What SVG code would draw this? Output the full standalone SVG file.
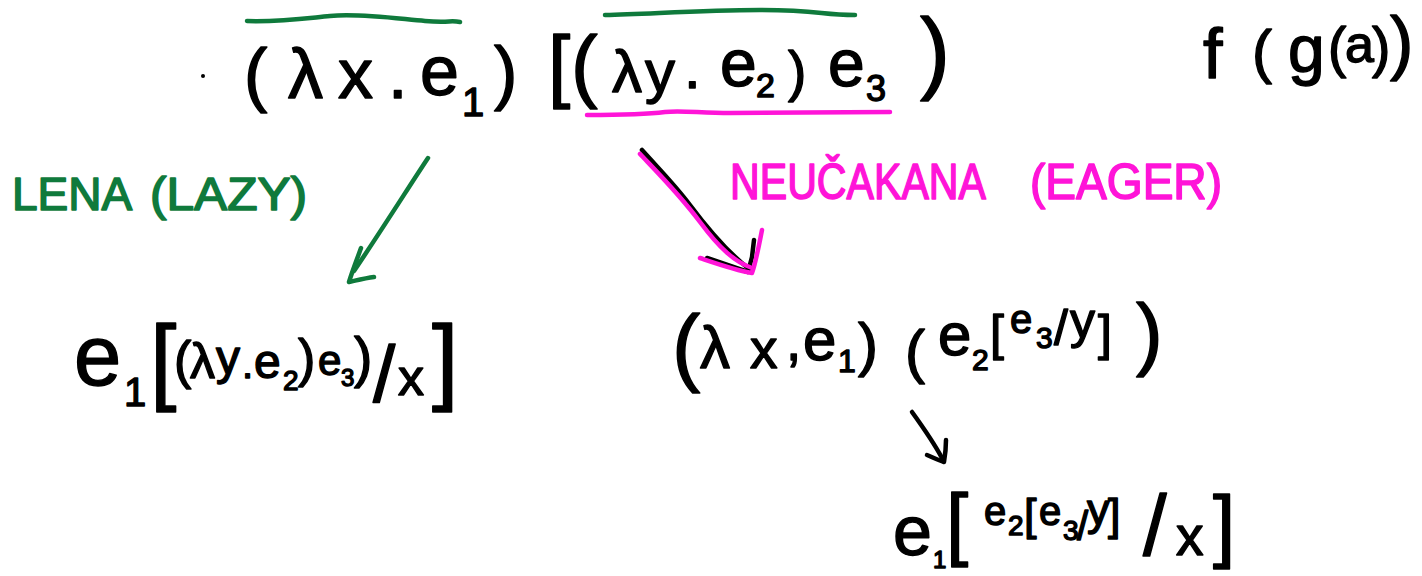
<svg xmlns="http://www.w3.org/2000/svg" width="1422" height="576" viewBox="0 0 1422 576">
<style>
.k{font-family:"Liberation Sans","DejaVu Sans",sans-serif;fill:#000;stroke:#000;stroke-width:1.4;stroke-linejoin:round}
.g{font-family:"Liberation Sans","DejaVu Sans",sans-serif;fill:#0f7a3c;stroke:#0f7a3c;stroke-width:1.6;stroke-linejoin:round}
.m{font-family:"Liberation Sans","DejaVu Sans",sans-serif;fill:#ff14d8;stroke:#ff14d8;stroke-width:1.6;stroke-linejoin:round}
.ln{fill:none;stroke-linecap:round;stroke-linejoin:round;stroke-width:4.5}
.lg{stroke:#0f7a3c}.lm{stroke:#ff14d8}.lk{stroke:#000}
</style>
<rect width="1422" height="576" fill="#fff"/>
<g id="top-expression">
<circle cx="203" cy="76" r="2" fill="#000"/>
<text class="k" font-size="70"><tspan x="244" y="98">(</tspan><tspan x="288" y="98">λ</tspan><tspan x="338" y="98">x</tspan><tspan x="388" y="98">.</tspan><tspan x="420" y="95">e</tspan><tspan x="462" y="116" font-size="40">1</tspan><tspan x="494" y="96" font-size="70">)</tspan><tspan x="548" y="92" font-size="80">[</tspan><tspan x="571" y="92" font-size="80">(</tspan><tspan x="612" y="92" font-size="60">λ</tspan><tspan x="645" y="92" font-size="60">y</tspan><tspan x="684" y="88" font-size="60">.</tspan><tspan x="720" y="86" font-size="66">e</tspan><tspan x="756" y="97" font-size="34">2</tspan><tspan x="788" y="90" font-size="55">)</tspan><tspan x="828" y="86" font-size="66">e</tspan><tspan x="866" y="101" font-size="36">3</tspan><tspan x="920" y="82" font-size="90">)</tspan></text>
<path class="ln lg" d="M247 21 C280 22 300 19 330 16 S 400 19 425 21 S 450 20 460 22"/>
<path class="ln lg" d="M605 15 C650 14 700 10 760 10 S 820 15 855 15"/>
<path class="ln lm" d="M587 115 C620 115 650 114 665 112 S 700 113 730 113 L 890 112"/>
</g>
<g id="f-g-a">
<text class="k" font-size="70"><tspan x="1203" y="78">f</tspan><tspan x="1252" y="72" font-size="60">(</tspan><tspan x="1288" y="72" font-size="66">g</tspan><tspan x="1328" y="66" font-size="55">(</tspan><tspan x="1345" y="62" font-size="52">a</tspan><tspan x="1372" y="66" font-size="55">)</tspan><tspan x="1390" y="66" font-size="70">)</tspan></text>
</g>
<g id="label-lazy">
<text class="g" font-size="46" x="12" y="210">LENA</text>
<text class="g" font-size="46" x="150" y="210" textLength="157" lengthAdjust="spacingAndGlyphs">(LAZY)</text>
</g>
<g id="label-eager">
<text class="m" font-size="50" x="730" y="199" textLength="256" lengthAdjust="spacingAndGlyphs">NEUČAKANA</text>
<text class="m" font-size="50" x="1030" y="199" textLength="192" lengthAdjust="spacingAndGlyphs">(EAGER)</text>
</g>
<g id="lazy-result">
<text class="k" font-size="85"><tspan x="74" y="385">e</tspan><tspan x="124" y="406" font-size="40">1</tspan><tspan x="150" y="392" font-size="95">[</tspan><tspan x="174" y="378" font-size="52">(</tspan><tspan x="190" y="378" font-size="50">λ</tspan><tspan x="216" y="374" font-size="48">y</tspan><tspan x="242" y="378" font-size="40">.</tspan><tspan x="254" y="378" font-size="48">e</tspan><tspan x="283" y="390" font-size="28">2</tspan><tspan x="298" y="376" font-size="52">)</tspan><tspan x="318" y="375" font-size="42">e</tspan><tspan x="341" y="386" font-size="24">3</tspan><tspan x="354" y="376" font-size="55">)</tspan><tspan x="373" y="402" font-size="80">/</tspan><tspan x="398" y="395" font-size="52">x</tspan><tspan x="432" y="392" font-size="95">]</tspan></text>
</g>
<g id="eager-step">
<text class="k" font-size="60"><tspan x="672" y="375" font-size="85">(</tspan><tspan x="700" y="368">λ</tspan><tspan x="750" y="368" font-size="55">x</tspan><tspan x="786" y="360" font-size="55">,</tspan><tspan x="803" y="360">e</tspan><tspan x="838" y="372" font-size="32">1</tspan><tspan x="858" y="365">)</tspan><tspan x="905" y="372">(</tspan><tspan x="938" y="355">e</tspan><tspan x="972" y="370" font-size="30">2</tspan><tspan x="990" y="350" font-size="50">[</tspan><tspan x="1010" y="333" font-size="40">e</tspan><tspan x="1036" y="348" font-size="30">3</tspan><tspan x="1054" y="345" font-size="50">/</tspan><tspan x="1070" y="338" font-size="50">y</tspan><tspan x="1098" y="350" font-size="50">]</tspan><tspan x="1136" y="360" font-size="80">)</tspan></text>
</g>
<g id="eager-result">
<text class="k" font-size="70"><tspan x="893" y="555">e</tspan><tspan x="933" y="568" font-size="24">1</tspan><tspan x="946" y="550" font-size="80">[</tspan><tspan x="984" y="525" font-size="40">e</tspan><tspan x="1008" y="535" font-size="28">2</tspan><tspan x="1024" y="530" font-size="45">[</tspan><tspan x="1039" y="525" font-size="40">e</tspan><tspan x="1063" y="540" font-size="28">3</tspan><tspan x="1077" y="540" font-size="40">/</tspan><tspan x="1087" y="525" font-size="45">y</tspan><tspan x="1108" y="530" font-size="45">]</tspan><tspan x="1143" y="555" font-size="85">/</tspan><tspan x="1176" y="555" font-size="55">x</tspan><tspan x="1213" y="552" font-size="80">]</tspan></text>
</g>
<g id="connectors">
<path class="ln lg" d="M428 158 C410 185 385 225 354 271"/>
<path class="ln lg" d="M361 248 C356 262 352 272 349 282 C358 280 366 278 374 277"/>
<path class="ln lk" d="M642 150 C660 170 675 185 690 205 S 725 250 748 268"/>
<path class="ln lk" d="M707 258 L748 272 L752 257 L754 240"/>
<path class="ln lm" d="M640 154 C660 175 680 195 700 222 S 735 262 752 268"/>
<path class="ln lm" d="M700 258 C715 263 735 270 752 273 C756 262 759 245 762 230"/>
<path class="ln lk" d="M912 412 C925 430 935 445 942 458"/>
<path class="ln lk" d="M946 440 C946 450 945 456 944 462 C938 460 932 457 927 455"/>
</g>
</svg>
